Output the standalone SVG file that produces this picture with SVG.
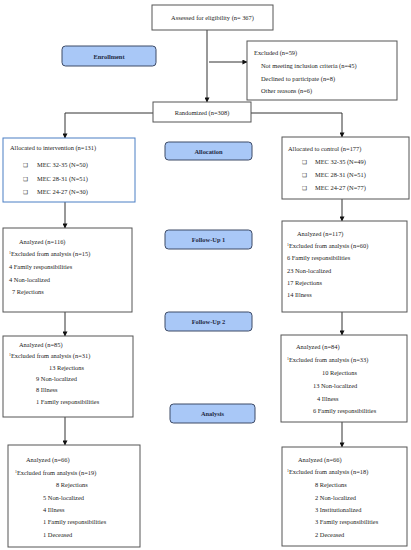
<svg xmlns="http://www.w3.org/2000/svg" width="411" height="550" viewBox="0 0 411 550">
<style>
.box{fill:#fff;stroke:#555;stroke-width:1}
.bbox{fill:#fff;stroke:#4a7ec4;stroke-width:1}
.pill{fill:#a9c8f7;stroke:#3c4a66;stroke-width:1}
text{font-family:"Liberation Serif","DejaVu Serif",serif;font-size:6.4px;fill:#222}
.pt{font-weight:bold;fill:#1f2a44;text-anchor:middle;font-size:6.4px}
.c{text-anchor:middle}
.cb{font-family:"DejaVu Sans",sans-serif;font-size:5.5px}
.sup{font-size:3.8px}
.ln{fill:none;stroke:#333;stroke-width:1}
</style>
<defs>
<marker id="ah" viewBox="0 0 6 6" refX="5.5" refY="3" markerWidth="5" markerHeight="5" orient="auto" markerUnits="userSpaceOnUse">
<path d="M0,0 L6,3 L0,6 z" fill="#111"/>
</marker>
</defs>

<g id="connectors">
<path class="ln" d="M207,30 V102" marker-end="url(#ah)"/>
<path class="ln" d="M209,62 H247" marker-end="url(#ah)"/>
<path class="ln" d="M153,113 H65 V138" marker-end="url(#ah)"/>
<path class="ln" d="M251,113 H342 V137" marker-end="url(#ah)"/>
<path class="ln" d="M65,202 V228" marker-end="url(#ah)"/>
<path class="ln" d="M342,199 V221" marker-end="url(#ah)"/>
<path class="ln" d="M65,312 V336" marker-end="url(#ah)"/>
<path class="ln" d="M342,312 V335" marker-end="url(#ah)"/>
<path class="ln" d="M65,417 V445" marker-end="url(#ah)"/>
<path class="ln" d="M342,422 V447" marker-end="url(#ah)"/>
</g>

<g id="assessed">
<rect class="box" x="152" y="5" width="121" height="25"/>
<text class="c" x="212.5" y="20">Assessed for eligibility (n= 367)</text>
</g>

<g id="enrollment">
<rect class="pill" x="62" y="46" width="94" height="20" rx="3.5"/>
<text class="pt" x="109" y="58.5">Enrollment</text>
</g>

<g id="excluded">
<rect class="box" x="247" y="41" width="150" height="59"/>
<text x="254" y="55">Excluded (n=59)</text>
<text x="261" y="68">Not meeting inclusion criteria (n=45)</text>
<text x="261" y="80.5">Declined to participate (n=8)</text>
<text x="261" y="92.5">Other reasons (n=6)</text>
</g>

<g id="randomized">
<rect class="box" x="153" y="102" width="98" height="20"/>
<text class="c" x="202" y="115">Randomized (n=308)</text>
</g>

<g id="intervention">
<rect class="bbox" x="3" y="138" width="132" height="64"/>
<text x="10" y="150">Allocated to intervention (n=131)</text>
<text class="cb" x="23" y="167">❑</text><text x="37" y="167">MEC 32-35 (N=50)</text>
<text class="cb" x="23" y="180.5">❑</text><text x="37" y="180.5">MEC 28-31 (N=51)</text>
<text class="cb" x="23" y="194">❑</text><text x="37" y="194">MEC 24-27 (N=30)</text>
</g>

<g id="allocation">
<rect class="pill" x="165" y="142" width="87" height="18" rx="3.5"/>
<text class="pt" x="208.5" y="153.5">Allocation</text>
</g>

<g id="control">
<rect class="box" x="282" y="137" width="127" height="62"/>
<text x="288" y="151">Allocated to control (n=177)</text>
<text class="cb" x="302" y="164">❑</text><text x="315" y="164">MEC 32-35 (N=49)</text>
<text class="cb" x="302" y="177">❑</text><text x="315" y="177">MEC 28-31 (N=51)</text>
<text class="cb" x="302" y="190">❑</text><text x="315" y="190">MEC 24-27 (N=77)</text>
</g>

<g id="followup1">
<rect class="pill" x="165" y="230" width="87" height="19" rx="3.5"/>
<text class="pt" x="208.5" y="241.5">Follow-Up 1</text>
</g>

<g id="followup2">
<rect class="pill" x="165" y="312" width="87" height="19" rx="3.5"/>
<text class="pt" x="208.5" y="323.5">Follow-Up 2</text>
</g>

<g id="analysis">
<rect class="pill" x="170" y="404" width="85" height="19" rx="3.5"/>
<text class="pt" x="212.5" y="415.5">Analysis</text>
</g>

<g id="int-fu1">
<rect class="box" x="3" y="228" width="129" height="84"/>
<text x="19" y="244">Analyzed (n=116)</text>
<text x="9" y="255.5"><tspan class="sup" dy="-2">1</tspan><tspan dy="2">Excluded from analysis (n=15)</tspan></text>
<text x="9" y="269">4 Family responsibilities</text>
<text x="9" y="281.5">4 Non-localized</text>
<text x="12" y="294">7 Rejections</text>
</g>

<g id="ctl-fu1">
<rect class="box" x="282" y="221" width="125" height="91"/>
<text x="297" y="236">Analyzed (n=117)</text>
<text x="287" y="248"><tspan class="sup" dy="-2">1</tspan><tspan dy="2">Excluded from analysis (n=60)</tspan></text>
<text x="287" y="260">6 Family responsibilities</text>
<text x="287" y="272.5">23 Non-localized</text>
<text x="287" y="285">17 Rejections</text>
<text x="287" y="297">14 Illness</text>
</g>

<g id="int-fu2">
<rect class="box" x="3" y="336" width="130" height="81"/>
<text x="19" y="346.5">Analyzed (n=85)</text>
<text x="9" y="358"><tspan class="sup" dy="-2">1</tspan><tspan dy="2">Excluded from analysis (n=31)</tspan></text>
<text x="49" y="369.5">13 Rejections</text>
<text x="36" y="380.5">9 Non-localized</text>
<text x="36" y="391.5">8 Illness</text>
<text x="36" y="403.5">1 Family responsibilities</text>
</g>

<g id="ctl-fu2">
<rect class="box" x="281" y="335" width="126" height="87"/>
<text x="296" y="348.5">Analyzed (n=84)</text>
<text x="287" y="362"><tspan class="sup" dy="-2">1</tspan><tspan dy="2">Excluded from analysis (n=33)</tspan></text>
<text x="322" y="375">10 Rejections</text>
<text x="313" y="388">13 Non-localized</text>
<text x="317" y="400.5">4 Illness</text>
<text x="313" y="413">6 Family responsibilities</text>
</g>

<g id="int-analysis">
<rect class="box" x="8" y="445" width="132" height="102"/>
<text x="26" y="462">Analyzed (n=66)</text>
<text x="15" y="475"><tspan class="sup" dy="-2">1</tspan><tspan dy="2">Excluded from analysis (n=19)</tspan></text>
<text x="56" y="487">8 Rejections</text>
<text x="43" y="499.5">5 Non-localized</text>
<text x="43" y="512">4 Illness</text>
<text x="43" y="524">1 Family responsibilities</text>
<text x="43" y="537">1 Deceased</text>
</g>

<g id="ctl-analysis">
<rect class="box" x="282" y="447" width="125" height="99"/>
<text x="298" y="462">Analyzed (n=66)</text>
<text x="287" y="474"><tspan class="sup" dy="-2">1</tspan><tspan dy="2">Excluded from analysis (n=18)</tspan></text>
<text x="315" y="487">8 Rejections</text>
<text x="315" y="499.5">2 Non-localized</text>
<text x="315" y="512">3 Institutionalized</text>
<text x="315" y="524">3 Family responsibilities</text>
<text x="315" y="537">2 Deceased</text>
</g>
</svg>
